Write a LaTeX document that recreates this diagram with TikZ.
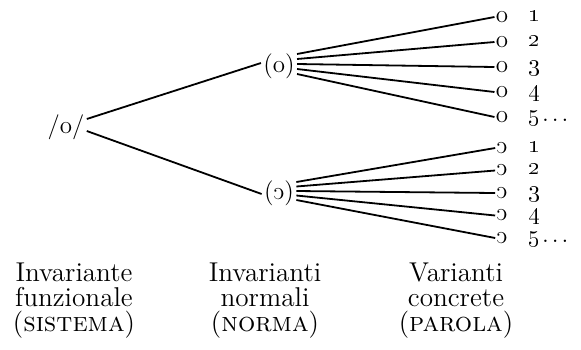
\documentclass[tikz,border=0pt]{standalone}
\usepackage{graphicx}
\usetikzlibrary{positioning}

\newcommand{\openo}{\reflectbox{c}}

\begin{document}
\begin{tikzpicture}[
  x=0.5pt, y=-0.5pt,
  font=\fontsize{12.5}{12}\selectfont,
  sym/.style={inner sep=1pt},
  leaf/.style={inner sep=0.5pt},
  num/.style={anchor=west, inner sep=0pt, text height=5pt, text depth=1pt},
  caption/.style={align=center, anchor=north, inner sep=0pt,
    font=\fontsize{13.6}{12.4}\selectfont},
  branch/.style={draw, line width=0.9pt},
]
\useasboundingbox (0,0) rectangle (581,349);

%% ====================================================================
%%  INVARIANTS
%% ====================================================================
\node[sym] (root)  at (66,127) {/o/};
\node[sym] (normO) at (279,66)  {(o)};
\node[sym] (normC) at (279,193) {(\openo)};

\draw[branch] ([yshift=4pt]root.east) -- ([yshift=1.5pt]normO.west);
\draw[branch] ([yshift=-2pt]root.east) -- ([yshift=-0.5pt]normC.west);

%% ====================================================================
%%  CONCRETE VARIANTS
%% ====================================================================
\foreach \i in {1,...,5} {
  \node[leaf] (oleaf\i) at (502, {17+25*(\i-1)}) {o};
  \node[num]  (onum\i)  at (528, {17+25*(\i-1)}) {\oldstylenums{\i}\ifnum\i=5\kern1pt.\kern1.5pt.\kern1.5pt.\fi};
  \draw[branch] ([yshift={(6-2.5*(\i-1))*1pt}]normO.east) -- (oleaf\i.west);
}
\foreach \i in {1,...,5} {
  \node[leaf] (cleaf\i) at (502, {148+22.5*(\i-1)}) {\openo};
  \node[num]  (cnum\i)  at (528, {148+22.5*(\i-1)}) {\oldstylenums{\i}\ifnum\i=5\kern1pt.\kern1.5pt.\kern1.5pt.\fi};
  \draw[branch] ([yshift={(5.5-2.25*(\i-1))*1pt}]normC.east) -- (cleaf\i.west);
}

%% ====================================================================
%%  CAPTIONS
%% ====================================================================
\node[caption] (capSys)  at (74,263)  {Invariante\\funzionale\\(\textsc{sistema})};
\node[caption] (capNorm) at (265,263) {Invarianti\\normali\\(\textsc{norma})};
\node[caption] (capPar)  at (456,263) {Varianti\\concrete\\(\textsc{parola})};

\end{tikzpicture}
\end{document}
